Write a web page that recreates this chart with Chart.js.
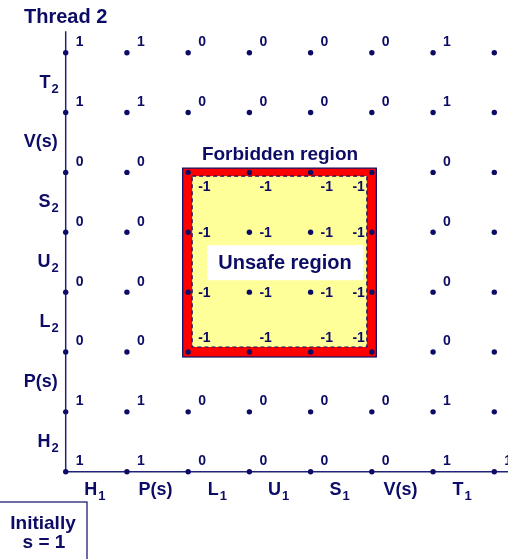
<!DOCTYPE html>
<html>
<head>
<meta charset="utf-8">
<script src="https://cdn.jsdelivr.net/npm/chart.js@4/dist/chart.umd.min.js"></script>
<style>
  html, body { margin: 0; padding: 0; background: #fff; }
  canvas { display: block; }
</style>
</head>
<body>
<canvas id="graph" width="508" height="559"></canvas>
<script>
// instructions of each thread, shown between the grid points
const thread1Steps = ["H_1", "P(s)", "L_1", "U_1", "S_1", "V(s)", "T_1"];
const thread2Steps = ["H_2", "P(s)", "L_2", "U_2", "S_2", "V(s)", "T_2"];

// value of semaphore s at each state, top row (after T2) first
const sValues = [
  [1, 1, 0, 0, 0, 0, 1, null],
  [1, 1, 0, 0, 0, 0, 1, null],
  [0, 0, -1, -1, -1, -1, 0, null],
  [0, 0, -1, -1, -1, -1, 0, null],
  [0, 0, -1, -1, -1, -1, 0, null],
  [0, 0, -1, -1, -1, -1, 0, null],
  [1, 1, 0, 0, 0, 0, 1, null],
  [1, 1, 0, 0, 0, 0, 1, 1]
];

// forbidden region, in grid units
const forbiddenX = [2, 5];
const forbiddenY = [2, 5];

const NAVY = "#0c0c66";
const FONT = "'Liberation Sans', Arial, sans-serif";

const n = sValues.length;
const points = [];
sValues.forEach((row, r) => {
  row.forEach((v, i) => {
    points.push({ x: i, y: n - 1 - r, v: v });
  });
});

function subText(ctx, main, sub, x, y, align) {
  ctx.font = "bold 18px " + FONT;
  const w1 = ctx.measureText(main).width;
  ctx.font = "bold 13px " + FONT;
  const w2 = sub ? ctx.measureText(sub).width : 0;
  let left = x - (w1 + w2) / 2;
  if (align === "right") left = x - (w1 + w2);
  ctx.textAlign = "left";
  ctx.font = "bold 18px " + FONT;
  ctx.fillText(main, left, y);
  if (sub) {
    ctx.font = "bold 13px " + FONT;
    ctx.fillText(sub, left + w1 + 1, y + 5);
  }
}

function splitLabel(s) {
  const p = s.split("_");
  return [p[0], p[1] || ""];
}

const progressPlugin = {
  id: "progress",
  beforeDatasetsDraw(chart) {
    const ctx = chart.ctx;
    const xs = chart.scales.x, ys = chart.scales.y;
    const x0 = xs.getPixelForValue(0), y0 = ys.getPixelForValue(0);
    const fl = xs.getPixelForValue(forbiddenX[0]), fr = xs.getPixelForValue(forbiddenX[1]);
    const ft = ys.getPixelForValue(forbiddenY[1]), fb = ys.getPixelForValue(forbiddenY[0]);
    ctx.save();

    // forbidden region: red band, yellow inside
    ctx.fillStyle = "#ff0000";
    ctx.fillRect(fl - 5.5, ft - 4.3, fr - fl + 10, fb - ft + 9.3);
    ctx.strokeStyle = NAVY;
    ctx.lineWidth = 1.2;
    ctx.strokeRect(fl - 5.5, ft - 4.3, fr - fl + 10, fb - ft + 9.3);
    ctx.fillStyle = "#ffff99";
    ctx.fillRect(fl + 4, ft + 3.7, fr - fl - 9, fb - ft - 8.7);
    ctx.setLineDash([4, 3]);
    ctx.lineWidth = 1.2;
    ctx.strokeRect(fl + 4, ft + 3.7, fr - fl - 9, fb - ft - 8.7);
    ctx.setLineDash([]);

    // unsafe region box
    const cx = (fl + fr) / 2 + 5, cy = (ft + fb) / 2;
    ctx.fillStyle = "#ffffff";
    ctx.fillRect(cx - 78, cy - 17, 156, 35);
    ctx.fillStyle = NAVY;
    ctx.textAlign = "center";
    ctx.font = "bold 20px " + FONT;
    ctx.fillText("Unsafe region", cx, cy + 7);
    ctx.font = "bold 19px " + FONT;
    ctx.fillText("Forbidden region", (fl + fr) / 2, ft - 12);

    // axes
    ctx.strokeStyle = "#22227a";
    ctx.lineWidth = 1.5;
    ctx.beginPath();
    ctx.moveTo(x0, ys.getPixelForValue(7.36));
    ctx.lineTo(x0, y0);
    ctx.lineTo(chart.width, y0);
    ctx.stroke();
    ctx.restore();
  },
  afterDatasetsDraw(chart) {
    const ctx = chart.ctx;
    const xs = chart.scales.x, ys = chart.scales.y;
    const x0 = xs.getPixelForValue(0), y0 = ys.getPixelForValue(0);
    ctx.save();
    ctx.fillStyle = NAVY;

    // values of s next to each point
    ctx.font = "bold 14px " + FONT;
    points.forEach(p => {
      if (p.v === null) return;
      const px = xs.getPixelForValue(p.x), py = ys.getPixelForValue(p.y);
      const inside = p.x >= forbiddenX[0] && p.x <= forbiddenX[1] &&
                     p.y >= forbiddenY[0] && p.y <= forbiddenY[1];
      if (!inside) {
        ctx.textAlign = "left";
        ctx.fillText(String(p.v), px + 10, py - 6.5);
        return;
      }
      let ty = py + 5;
      if (p.y === forbiddenY[1]) ty = py + 19;
      if (p.y === forbiddenY[0]) ty = py - 10;
      if (p.x === forbiddenX[1]) {
        ctx.textAlign = "right";
        ctx.fillText(String(p.v), px - 7, ty);
      } else {
        ctx.textAlign = "left";
        ctx.fillText(String(p.v), px + 10, ty);
      }
    });

    // thread instructions
    thread1Steps.forEach((s, i) => {
      const [m, sub] = splitLabel(s);
      subText(ctx, m, sub, xs.getPixelForValue(i + 0.5) - 2, y0 + 23, "center");
    });
    thread2Steps.forEach((s, i) => {
      const [m, sub] = splitLabel(s);
      subText(ctx, m, sub, x0 - 8, ys.getPixelForValue(i + 0.5) + 5, "right");
    });

    ctx.textAlign = "left";
    ctx.font = "bold 20px " + FONT;
    ctx.fillText("Thread 2", 24, 22.5);

    // initial value note
    ctx.strokeStyle = NAVY;
    ctx.lineWidth = 1.2;
    ctx.strokeRect(-1, 502, 88, 70);
    ctx.textAlign = "center";
    ctx.font = "bold 19px " + FONT;
    ctx.fillText("Initially", 43, 529);
    ctx.fillText("s = 1", 44, 548);
    ctx.restore();
  }
};

new Chart(document.getElementById("graph"), {
  type: "scatter",
  data: {
    datasets: [{
      data: points,
      pointRadius: 2.7,
      pointHoverRadius: 2.7,
      backgroundColor: NAVY,
      borderColor: NAVY,
      borderWidth: 0,
      clip: false
    }]
  },
  options: {
    responsive: false,
    animation: false,
    events: [],
    layout: { padding: { left: 65.7, right: 13.7, top: 52.7, bottom: 87.3 } },
    scales: {
      x: { type: "linear", min: 0, max: 7, display: false },
      y: { type: "linear", min: 0, max: 7, display: false }
    },
    plugins: {
      legend: { display: false },
      tooltip: { enabled: false }
    }
  },
  plugins: [progressPlugin]
});
</script>
</body>
</html>
